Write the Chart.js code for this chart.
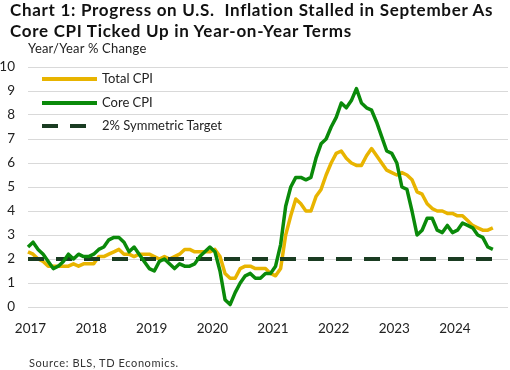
<!DOCTYPE html>
<html>
<head>
<meta charset="utf-8">
<script src="https://cdn.jsdelivr.net/npm/chart.js@4"></script>
<style>
  body { margin: 0; background: #fff; }
  #wrap { position: relative; width: 510px; height: 370px; overflow: hidden; font-family: Lato, sans-serif; color: #1a1a1a; }
  #chart { position: absolute; left: 0; top: 0; }
  #title { position: absolute; left: 10px; top: -1px; font: 700 17px Lato, sans-serif; line-height: 21px; letter-spacing: 0.7px; white-space: pre; color: #111; }
  #ylabel { position: absolute; left: 28px; top: 40px; font-size: 13px; letter-spacing: 0.2px; color: #222; }
  #source { position: absolute; left: 29px; top: 356px; font-size: 11px; letter-spacing: 0.6px; color: #333; }
  .leg { position: absolute; left: 42px; height: 16px; font-size: 13px; color: #222; }
  .sw { position: absolute; top: 6px; height: 4px; }
  .leg span.txt { position: absolute; left: 60px; top: -1px; white-space: nowrap; }
</style>
</head>
<body>
<div id="wrap">
  <canvas id="chart" width="510" height="370"></canvas>
  <div id="title">Chart 1: Progress on U.S.  Inflation Stalled in September As
Core CPI Ticked Up in Year-on-Year Terms</div>
  <div id="ylabel">Year/Year % Change</div>
  <div class="leg" style="top:71px"><div class="sw" style="left:0;width:55px;background:#e8b400"></div><span class="txt">Total CPI</span></div>
  <div class="leg" style="top:95px"><div class="sw" style="left:0;width:55px;background:#0a8a0a"></div><span class="txt">Core CPI</span></div>
  <div class="leg" style="top:118px"><div class="sw" style="left:0;width:16px;background:#1a3c22"></div><div class="sw" style="left:28px;width:16px;background:#1a3c22"></div><span class="txt">2% Symmetric Target</span></div>
  <div id="source">Source: BLS, TD Economics.</div>
</div>
<script>
// monthly axis, Jan 2017 .. Dec 2024
const years = [2017, 2018, 2019, 2020, 2021, 2022, 2023, 2024];
const months = [];
years.forEach(y => {
  for (let m = 1; m <= 12; m++) months.push(y + '-' + String(m).padStart(2, '0'));
});

// gold line, Jan 2017 .. Sep 2024
const totalCpi = [
  2.3, 2.2, 2.0, 1.9, 1.7, 1.7, 1.7, 1.7, 1.7, 1.8, 1.7, 1.8,
  1.8, 1.8, 2.1, 2.1, 2.2, 2.3, 2.4, 2.2, 2.2, 2.1, 2.2, 2.2,
  2.2, 2.1, 2.0, 2.1, 2.0, 2.1, 2.2, 2.4, 2.4, 2.3, 2.3, 2.3,
  2.3, 2.4, 2.1, 1.4, 1.2, 1.2, 1.6, 1.7, 1.7, 1.6, 1.6, 1.6,
  1.4, 1.3, 1.6, 3.0, 3.8, 4.5, 4.3, 4.0, 4.0, 4.6, 4.9, 5.5,
  6.0, 6.4, 6.5, 6.2, 6.0, 5.9, 5.9, 6.3, 6.6, 6.3, 6.0, 5.7,
  5.6, 5.5, 5.6, 5.5, 5.3, 4.8, 4.7, 4.3, 4.1, 4.0, 4.0, 3.9,
  3.9, 3.8, 3.8, 3.6, 3.4, 3.3, 3.2, 3.2, 3.3
];

// green line, Jan 2017 .. Sep 2024
const coreCpi = [
  2.5, 2.7, 2.4, 2.2, 1.9, 1.6, 1.7, 1.9, 2.2, 2.0, 2.2, 2.1,
  2.1, 2.2, 2.4, 2.5, 2.8, 2.9, 2.9, 2.7, 2.3, 2.5, 2.2, 1.9,
  1.6, 1.5, 1.9, 2.0, 1.8, 1.6, 1.8, 1.7, 1.7, 1.8, 2.1, 2.3,
  2.5, 2.3, 1.5, 0.3, 0.1, 0.6, 1.0, 1.3, 1.4, 1.2, 1.2, 1.4,
  1.4, 1.7, 2.6, 4.2, 5.0, 5.4, 5.4, 5.3, 5.4, 6.2, 6.8, 7.0,
  7.5, 7.9, 8.5, 8.3, 8.6, 9.1, 8.5, 8.3, 8.2, 7.7, 7.1, 6.5,
  6.4, 6.0, 5.0, 4.9, 4.0, 3.0, 3.2, 3.7, 3.7, 3.2, 3.1, 3.4,
  3.1, 3.2, 3.5, 3.4, 3.3, 3.0, 2.9, 2.5, 2.4
];

const targetRate = 2;
const targetSpan = ['2017-01', '2024-09'];

const yTicks = [0, 1, 2, 3, 4, 5, 6, 7, 8, 9, 10];

const ctx = document.getElementById('chart').getContext('2d');
new Chart(ctx, {
  type: 'line',
  data: {
    labels: months,
    datasets: [
      {
        label: 'Core CPI',
        data: coreCpi,
        borderColor: '#0a8a0a',
        borderWidth: 3.5,
        pointRadius: 0,
        tension: 0,
        borderJoinStyle: 'round',
        order: 0
      },
      {
        label: '2% Symmetric Target',
        data: targetSpan.map(m => ({ x: m, y: targetRate })),
        borderColor: '#1a3c22',
        borderWidth: 4,
        borderDash: [16, 12],
        pointRadius: 0,
        order: 1
      },
      {
        label: 'Total CPI',
        data: totalCpi,
        borderColor: '#e8b400',
        borderWidth: 3.5,
        pointRadius: 0,
        tension: 0,
        borderJoinStyle: 'round',
        order: 2
      }
    ]
  },
  options: {
    responsive: false,
    animation: false,
    devicePixelRatio: 1,
    layout: { padding: { top: 67, left: 0, right: 2, bottom: 30 } },
    scales: {
      x: {
        type: 'category',
        offset: false,
        grid: { display: false },
        border: { display: false },
        afterFit: s => { s.height = 33; },
        ticks: {
          autoSkip: false,
          maxRotation: 0,
          padding: 6,
          labelOffset: 2.5,
          color: '#222',
          font: { family: 'Lato', size: 13.5 },
          callback: function(v, i) {
            const m = months[i];
            return m.endsWith('-01') ? m.slice(0, 4) : null;
          }
        }
      },
      y: {
        min: 0,
        max: 10,
        afterFit: s => { s.width = 28; },
        afterBuildTicks: s => { s.ticks = yTicks.map(v => ({ value: v })); },
        grid: { color: '#d9d9d9', lineWidth: 1, drawTicks: false },
        border: { display: false },
        ticks: {
          padding: 13,
          color: '#222',
          font: { family: 'Lato', size: 13.5 }
        }
      }
    },
    plugins: {
      legend: { display: false },
      tooltip: { enabled: false }
    }
  }
});
</script>
</body>
</html>
